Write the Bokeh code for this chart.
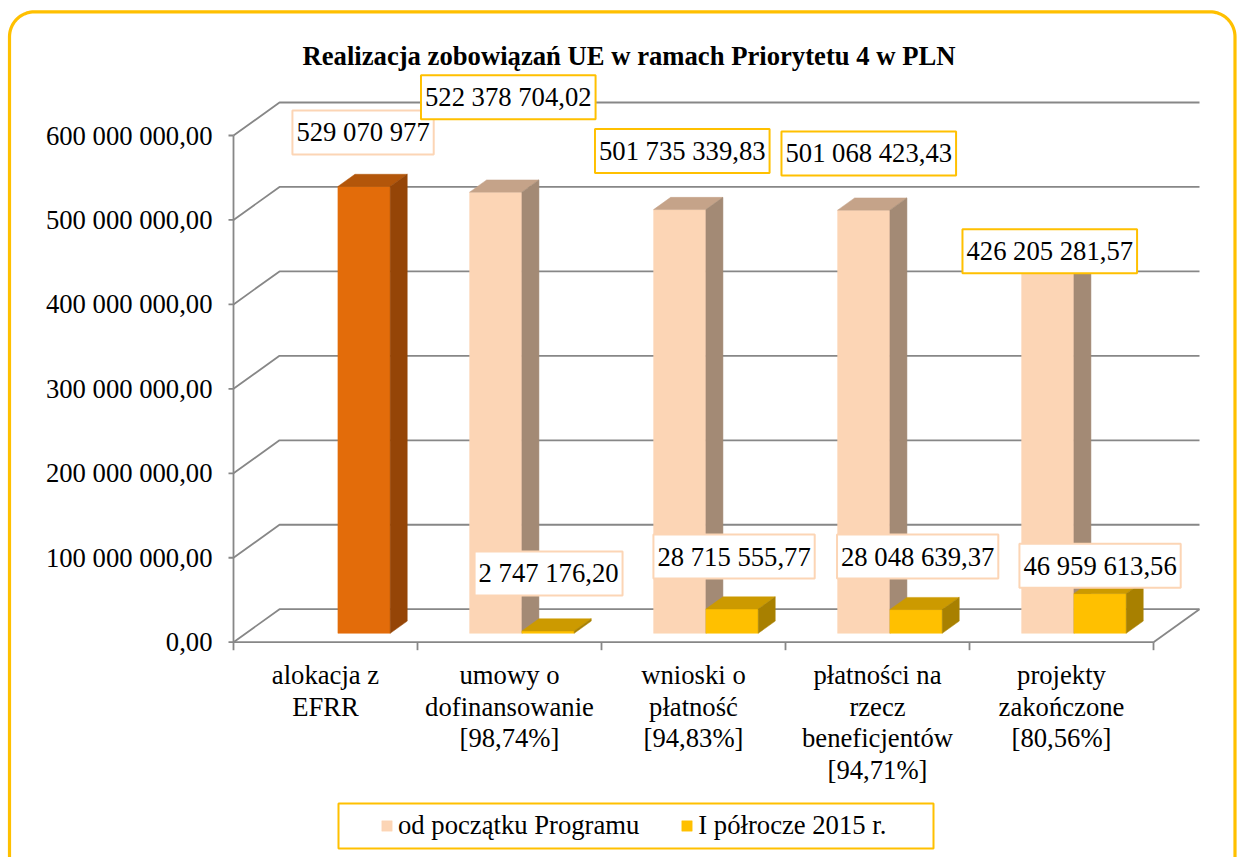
import numpy as np
from bokeh.plotting import figure
from bokeh.models import Range1d, ColumnDataSource, Legend, LegendItem
from bokeh.core.properties import value
from bokeh.embed import file_html
from bokeh.resources import INLINE

# ---------------- data ----------------
title = "Realizacja zobowiązań UE w ramach Priorytetu 4 w PLN"
categories = ["alokacja z\nEFRR",
              "umowy o\ndofinansowanie\n[98,74%]",
              "wnioski o\npłatność\n[94,83%]",
              "płatności na\nrzecz\nbeneficjentów\n[94,71%]",
              "projekty\nzakończone\n[80,56%]"]
series_names = ["od początku Programu", "I półrocze 2015 r."]
alokacja_efrr = [529070977, None, None, None, None]
od_poczatku_programu = [None, 522378704.02, 501735339.83, 501068423.43, 426205281.57]
i_polrocze_2015 = [None, 2747176.20, 28715555.77, 28048639.37, 46959613.56]
y_ticks = [0, 100e6, 200e6, 300e6, 400e6, 500e6, 600e6]

# ---------------- layout (pixels) ----------------
W, H = 1237, 857
X0, CW = 233.0, 184.0          # front-left corner x, category width
Y0, YTOP = 641.7, 135.0        # front y of 0 and of top tick
PXPV = (Y0 - YTOP) / y_ticks[-1]
DX, DY = 46.0, 33.0            # depth of floor
F0, F1 = 0.27, 0.64            # bar depth start / end
BW = 52.3                      # bar width px

def cx(px):
    return (px - X0) / CW

def vy(py):
    return (Y0 - py) / PXPV

ddx = DX / CW
ddy = DY / PXPV
bw = BW / CW
N = len(categories)

FONT = value("Liberation Serif")
FS = "26.67px"
GRID = "#878787"
YEL = "#FFC000"
PINK_B = "#FCD5B5"

p = figure(width=W, height=H, output_backend="svg", toolbar_location=None,
           x_range=Range1d(cx(0), cx(W)), y_range=Range1d(vy(H), vy(0)),
           x_axis_type=None, y_axis_type=None, min_border=0,
           outline_line_color=None, background_fill_color="white",
           border_fill_color="white")
p.grid.visible = False

# ---------------- 3D walls / grid ----------------
gx = [[0, ddx, N + ddx] for t in y_ticks]
gy = [[t, t + ddy, t + ddy] for t in y_ticks]
p.multi_line(gx, gy, line_color=GRID, line_width=1.8)
# floor front edge + right diagonal, front vertical axis
p.multi_line([[0, N], [N, N + ddx], [0, 0]],
             [[0, 0], [0, ddy], [0, y_ticks[-1]]],
             line_color=GRID, line_width=1.8)
# y ticks
p.segment(x0=[0] * len(y_ticks), y0=y_ticks, x1=[-5 / CW] * len(y_ticks), y1=y_ticks,
          line_color=GRID, line_width=1.8)
# category ticks
p.segment(x0=list(range(N + 1)), y0=[0] * (N + 1), x1=list(range(N + 1)),
          y1=[-8 / PXPV] * (N + 1), line_color=GRID, line_width=1.8)

# ---------------- bars ----------------
def bars(vals, slot):
    fr = dict(left=[], right=[], bottom=[], top=[])
    tp = dict(xs=[], ys=[])
    sd = dict(xs=[], ys=[])
    lab = dict(x=[], y=[], v=[])
    for i, v in enumerate(vals):
        if v is None:
            continue
        xl = i + 0.5 - bw if slot == 0 else i + 0.5
        xr = xl + bw
        a, b = F0 * ddx, F1 * ddx
        c, d = F0 * ddy, F1 * ddy
        fr["left"].append(xl + a); fr["right"].append(xr + a)
        fr["bottom"].append(c); fr["top"].append(v + c)
        tp["xs"].append([xl + a, xr + a, xr + b, xl + b])
        tp["ys"].append([v + c, v + c, v + d, v + d])
        sd["xs"].append([xr + a, xr + b, xr + b, xr + a])
        sd["ys"].append([c, d, v + d, v + c])
        lab["x"].append((xl + xr) / 2 + a); lab["y"].append(v + c); lab["v"].append(v)
    return fr, tp, sd, lab

def draw(vals, slot, cols):
    fr, tp, sd, lab = bars(vals, slot)
    r = p.quad(source=ColumnDataSource(fr), left="left", right="right", bottom="bottom",
               top="top", fill_color=cols[0], line_color=cols[0], line_width=0.5)
    p.patches(source=ColumnDataSource(tp), xs="xs", ys="ys", fill_color=cols[1],
              line_color=cols[1], line_width=0.5)
    p.patches(source=ColumnDataSource(sd), xs="xs", ys="ys", fill_color=cols[2],
              line_color=cols[2], line_width=0.5)
    return r, lab

r_pink, lab_pink = draw(od_poczatku_programu, 0, ["#FCD5B5", "#C5A389", "#A38A75"])
r_yel, lab_yel = draw(i_polrocze_2015, 1, ["#FFC000", "#CC9A00", "#A88000"])
r_or, lab_or = draw(alokacja_efrr, 1, ["#E36C0A", "#B3560A", "#954507"])

# ---------------- data labels ----------------
def fmt(v, dec=2):
    s = f"{v:,.{dec}f}"
    return s.replace(",", "X").replace(".", ",").replace("X", " ")

def labels(lab, dec, offs, border):
    src = ColumnDataSource(dict(x=lab["x"], y=lab["y"],
                                text=[fmt(v, dec) for v in lab["v"]],
                                xo=[o[0] for o in offs], yo=[o[1] for o in offs]))
    p.text(source=src, x="x", y="y", text="text", x_offset="xo", y_offset="yo",
           text_font=FONT, text_font_size=FS, text_color="black",
           text_align="center", text_baseline="middle",
           background_fill_color="white", border_line_color=border,
           border_line_width=2, padding=(4, 7))

labels(lab_or, 0, [(-1, -54)], PINK_B)
labels(lab_pink, 2, [(12.5, -95), (2.5, -58.5), (5, -56.7), (2, -22)], YEL)
labels(lab_yel, 2, [(0.5, -57.5), (2, -52.5), (1.6, -53), (0, -28)], PINK_B)

# ---------------- axis texts ----------------
p.text(x=[0] * len(y_ticks), y=y_ticks, text=[fmt(t) for t in y_ticks], x_offset=-21,
       text_font=FONT, text_font_size=FS, text_color="black",
       text_align="right", text_baseline="middle")
p.text(x=[i + 0.5 for i in range(N)], y=[0] * N, text=categories, y_offset=18,
       text_font=FONT, text_font_size=FS, text_color="black",
       text_align="center", text_baseline="top", text_line_height=1.05)

# title
p.text(x=[cx(628.5)], y=[vy(55)], text=[title], text_font=FONT, text_font_size=FS,
       text_font_style="bold", text_color="black", text_align="center",
       text_baseline="alphabetic")

# ---------------- legend ----------------
p.quad(left=[cx(338)], right=[cx(933)], bottom=[vy(848)], top=[vy(803)],
       fill_color=None, line_color=YEL, line_width=2)
legend = Legend(items=[LegendItem(label=series_names[0], renderers=[r_pink]),
                       LegendItem(label=series_names[1], renderers=[r_yel])],
                orientation="horizontal", location=(380, 16),
                border_line_color=None, background_fill_alpha=0,
                padding=0, margin=0, spacing=41, glyph_width=13, glyph_height=13,
                label_standoff=5, label_text_font="Liberation Serif",
                label_text_font_size=FS, label_text_color="black")
p.add_layout(legend)

# ---------------- outer rounded border ----------------
R = 25.0
L, T, Rt, B = 9.0, 11.3, 1234.5, 920.0
a1 = np.linspace(np.pi, 1.5 * np.pi, 20)
a2 = np.linspace(1.5 * np.pi, 2 * np.pi, 20)
bx = [L] + list(L + R + R * np.cos(a1)) + list(Rt - R + R * np.cos(a2)) + [Rt]
by = [B] + list(T + R + R * np.sin(a1)) + list(T + R + R * np.sin(a2)) + [B]
p.line([cx(v) for v in bx], [vy(v) for v in by], line_color=YEL, line_width=3.2)

open("out.html", "w").write(file_html(p, INLINE))
